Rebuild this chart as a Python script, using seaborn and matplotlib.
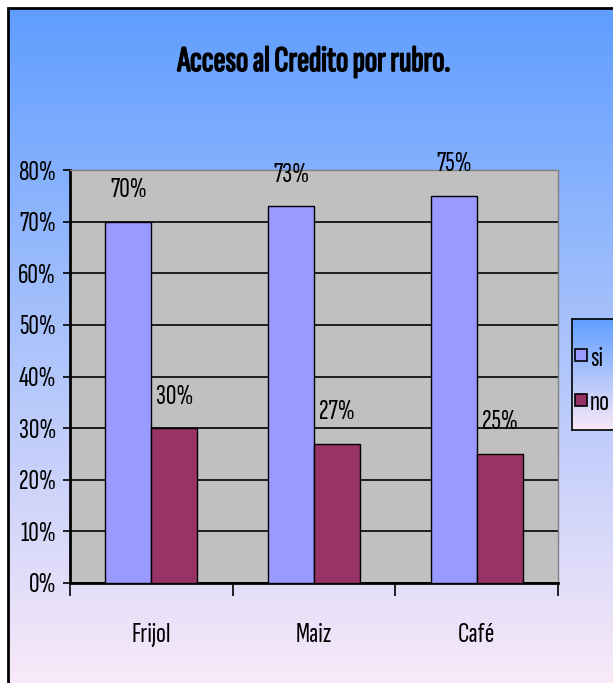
import matplotlib
matplotlib.use('Agg')
import matplotlib.pyplot as plt
import matplotlib.patheffects as pe
import seaborn as sns
import numpy as np
import pandas as pd
from matplotlib import font_manager
from matplotlib.ticker import MultipleLocator, PercentFormatter, FixedLocator
from matplotlib.lines import Line2D
from matplotlib.patches import Rectangle

rubros = ['Frijol', 'Maiz', 'Café']
respuestas = ['si', 'no']
valores_si = [0.70, 0.73, 0.75]
valores_no = [0.30, 0.27, 0.25]
colores = {'si': '#9999FF', 'no': '#993366'}

df = pd.DataFrame({
    'rubro': rubros * 2,
    'respuesta': ['si'] * 3 + ['no'] * 3,
    'valor': valores_si + valores_no,
})

sns.set_style('white')

# very narrow font, like a squeezed Arial Narrow
disponibles = {f.name for f in font_manager.fontManager.ttflist}
candidatas = ['Sofia Sans Extra Condensed', 'Pathway Gothic One', 'Liberation Sans Narrow',
              'Archivo Narrow', 'Liberation Sans']
fuente = next((c for c in candidatas if c in disponibles), 'DejaVu Sans')
plt.rcParams['font.family'] = [fuente, 'DejaVu Sans']
plt.rcParams['text.color'] = 'black'
plt.rcParams['xtick.color'] = 'black'
plt.rcParams['ytick.color'] = 'black'

FS = 21

W, H = 613, 683
fig = plt.figure(figsize=(W / 100, H / 100), dpi=100)
fig.patch.set_facecolor('white')

top = np.array([95, 158, 255]) / 255
bot = np.array([249, 233, 248]) / 255
t = np.linspace(0, 1, 256)[:, None]
grad = (top[None, :] * (1 - t) + bot[None, :] * t)[:, None, :]

# gradient background (blue top -> pink bottom)
bg = fig.add_axes([9 / W, 0, 1 - 9 / W, 1 - 9 / H], zorder=-10)
bg.imshow(grad, aspect='auto', extent=[0, 1, 0, 1])
bg.set_axis_off()
fig.add_artist(Rectangle((8 / W, -0.01), 1.1, 1 - 8 / H + 0.01, transform=fig.transFigure,
                         fill=False, edgecolor='black', linewidth=2, zorder=-5))

ax = fig.add_axes([70 / W, 1 - 583 / H, 488 / W, 413 / H])
ax.set_facecolor('#C0C0C0')

sns.barplot(data=df, x='rubro', y='valor', hue='respuesta', order=rubros, hue_order=respuestas,
            palette=colores, saturation=1, width=0.565, gap=0, edgecolor='black', linewidth=1,
            legend=False, ax=ax, zorder=3)

for cont in ax.containers:
    ax.bar_label(cont, labels=[f'{v:.0%}' for v in cont.datavalues], padding=14, fontsize=FS)

ax.set_ylim(0, 0.8)
ax.set_xlim(-0.5, 2.5)
ax.yaxis.set_major_locator(MultipleLocator(0.1))
ax.yaxis.set_major_formatter(PercentFormatter(1.0, decimals=0))
ax.grid(axis='y', color='black', linewidth=1.2, zorder=0)
ax.set_axisbelow(True)
ax.set_xlabel('')
ax.set_ylabel('')

ax.tick_params(axis='y', which='major', left=True, length=5, width=1.2, color='black',
               direction='out', labelsize=FS, pad=5)
ax.tick_params(axis='x', which='major', length=0, labelsize=FS, pad=29)
ax.xaxis.set_minor_locator(FixedLocator([-0.5, 0.5, 1.5, 2.5]))
ax.tick_params(axis='x', which='minor', bottom=True, length=9, width=1.2, color='black',
               direction='out')

for s in ['left', 'bottom']:
    ax.spines[s].set_color('black')
    ax.spines[s].set_linewidth(2)
for s in ['top', 'right']:
    ax.spines[s].set_color('#808080')
    ax.spines[s].set_linewidth(1)

fig.text(314 / W, 1 - 62 / H, 'Acceso al Credito por rubro.', ha='center', va='center',
         fontsize=26, fontweight='bold',
         path_effects=[pe.withStroke(linewidth=1.2, foreground='black')])

# legend box with its own gradient, cut by the right edge like the reference
lax = fig.add_axes([572 / W, 1 - 430 / H, 60 / W, 111 / H], zorder=5)
lax.imshow(grad, aspect='auto', extent=[0, 1, 0, 1])
lax.set_xticks([])
lax.set_yticks([])
for s in lax.spines.values():
    s.set_color('black')
    s.set_linewidth(1.2)

handles = [Line2D([], [], marker='s', linestyle='none', markersize=9, markerfacecolor=colores[r],
                  markeredgecolor='black', markeredgewidth=1.2) for r in respuestas]
leg = fig.legend(handles, respuestas, loc='center left', bbox_to_anchor=(575 / W, 1 - 380 / H),
                 bbox_transform=fig.transFigure, fontsize=FS, frameon=False,
                 handlelength=0.4, handletextpad=0.12, labelspacing=0.65, borderpad=0,
                 borderaxespad=0)
leg.set_zorder(6)

fig.savefig('out.png', dpi=100)
